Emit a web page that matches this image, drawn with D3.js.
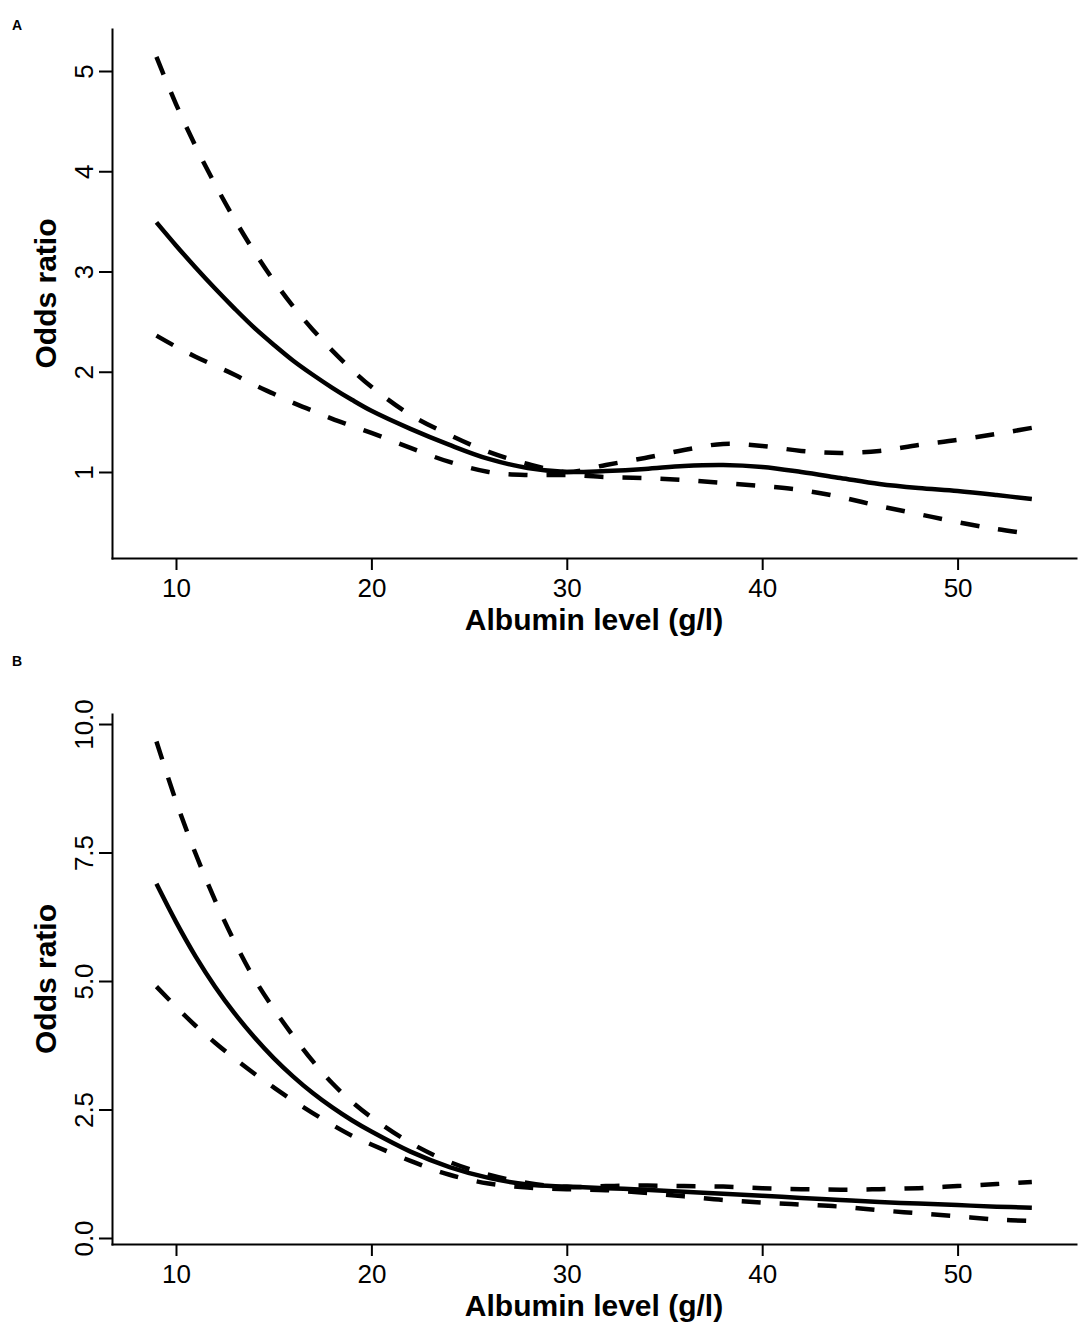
<!DOCTYPE html>
<html>
<head>
<meta charset="utf-8">
<script src="https://cdn.jsdelivr.net/npm/d3@7"></script>
<style>
  html, body { margin: 0; padding: 0; background: #fff; }
  svg { display: block; }
</style>
</head>
<body>
<svg id="chart" width="1084" height="1331"></svg>
<script>
// ---------- data ----------
const albumin = [9,10,11,12,13,14,15,16,17,18,19,20,22,24,26,28,30,32,34,36,38,40,42,44,46,48,50,52,53.8];

// Panel A
const orA    = [3.49,3.26,3.04,2.83,2.63,2.44,2.27,2.11,1.97,1.84,1.72,1.61,1.43,1.27,1.13,1.04,1.00,1.01,1.03,1.06,1.07,1.05,1.00,0.94,0.88,0.84,0.81,0.77,0.73];
const upperA = [5.14,4.67,4.25,3.87,3.52,3.20,2.91,2.65,2.42,2.21,2.02,1.85,1.57,1.37,1.20,1.08,1.00,1.07,1.14,1.22,1.28,1.26,1.21,1.19,1.21,1.27,1.32,1.38,1.44];
const lowerA = [2.36,2.25,2.15,2.06,1.97,1.87,1.78,1.69,1.61,1.53,1.46,1.39,1.24,1.10,1.00,0.97,0.97,0.95,0.94,0.92,0.89,0.86,0.82,0.75,0.66,0.58,0.50,0.43,0.38];

// Panel B
const orB    = [6.89,6.15,5.48,4.89,4.37,3.91,3.50,3.14,2.82,2.54,2.29,2.07,1.68,1.38,1.17,1.04,1.00,0.97,0.94,0.90,0.86,0.82,0.78,0.74,0.70,0.67,0.64,0.61,0.59];
const upperB = [9.66,8.50,7.48,6.57,5.76,5.05,4.46,3.93,3.44,3.01,2.65,2.35,1.85,1.48,1.23,1.07,0.99,1.01,1.02,1.01,1.00,0.97,0.95,0.94,0.95,0.97,1.01,1.05,1.09];
const lowerB = [4.89,4.50,4.13,3.80,3.49,3.20,2.93,2.67,2.43,2.20,1.99,1.82,1.50,1.23,1.06,0.98,0.95,0.93,0.88,0.81,0.74,0.69,0.65,0.61,0.54,0.48,0.42,0.36,0.33];

const xTicks  = [10,20,30,40,50];
const yTicksA = [1,2,3,4,5];
const yTicksB = [0,2.5,5,7.5,10];
const panelLabels = ["A","B"];
const xTitle = "Albumin level (g/l)";
const yTitle = "Odds ratio";

// ---------- layout ----------
const FONT = "'Liberation Sans', Arial, Helvetica, sans-serif";
const svg = d3.select("#chart");
const xLeft = 112, xRight = 1076;
const x = d3.scaleLinear().domain([6.725, 56.06]).range([xLeft, xRight]);

const panels = [
  { label: panelLabels[0], labelY: 30, top: 29, bottom: 558, yDomain: [0.142, 5.419],
    ticks: yTicksA, fmt: d3.format("d"), series: [orA, upperA, lowerA] },
  { label: panelLabels[1], labelY: 666, top: 714, bottom: 1244, yDomain: [-0.117, 10.195],
    ticks: yTicksB, fmt: d3.format(".1f"), series: [orB, upperB, lowerB] }
];

panels.forEach(p => {
  const y = d3.scaleLinear().domain(p.yDomain).range([p.bottom, p.top]);
  const g = svg.append("g");

  // panel letter
  g.append("text").attr("x", 12).attr("y", p.labelY)
    .attr("font-family", FONT).attr("font-weight", "bold").attr("font-size", 14)
    .text(p.label);

  // y axis
  const ya = g.append("g").attr("transform", `translate(${xLeft},0)`)
    .call(d3.axisLeft(y).tickValues(p.ticks).tickFormat(p.fmt).tickSize(13).tickSizeOuter(0));
  ya.select(".domain").attr("stroke-width", 2).attr("stroke-linecap", "square");
  ya.selectAll(".tick line").attr("stroke-width", 2);
  ya.selectAll(".tick text")
    .attr("font-family", FONT).attr("font-size", 26).attr("fill", "#000")
    .attr("transform", "rotate(-90)")
    .attr("x", 0).attr("y", -19).attr("dy", 0)
    .attr("text-anchor", "middle");

  // x axis
  const xa = g.append("g").attr("transform", `translate(0,${p.bottom})`)
    .call(d3.axisBottom(x).tickValues(xTicks).tickFormat(d3.format("d")).tickSize(12).tickSizeOuter(0));
  xa.select(".domain").attr("stroke-width", 2).attr("stroke-linecap", "square");
  xa.selectAll(".tick line").attr("stroke-width", 2);
  xa.selectAll(".tick text")
    .attr("font-family", FONT).attr("font-size", 26).attr("fill", "#000")
    .attr("y", 39).attr("dy", 0);

  // axis titles
  g.append("text")
    .attr("transform", `translate(56,${(p.top + p.bottom) / 2}) rotate(-90)`)
    .attr("text-anchor", "middle")
    .attr("font-family", FONT).attr("font-weight", "bold").attr("font-size", 30)
    .text(yTitle);
  g.append("text")
    .attr("x", (xLeft + xRight) / 2).attr("y", p.bottom + 72)
    .attr("text-anchor", "middle")
    .attr("font-family", FONT).attr("font-weight", "bold").attr("font-size", 30)
    .text(xTitle);

  // curves
  const line = d3.line()
    .x((d, i) => x(albumin[i]))
    .y(d => y(d))
    .curve(d3.curveCatmullRom.alpha(0.5));

  p.series.forEach((s, k) => {
    g.append("path")
      .attr("d", line(s))
      .attr("fill", "none")
      .attr("stroke", "#000")
      .attr("stroke-width", 4.5)
      .attr("stroke-dasharray", k === 0 ? null : "19,19");
  });
});
</script>
</body>
</html>
